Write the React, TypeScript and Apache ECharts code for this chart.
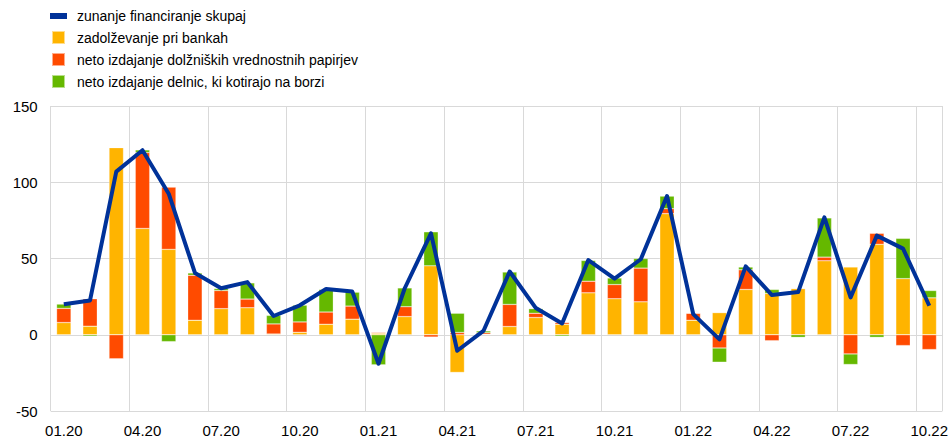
import React, { useEffect, useRef } from "react";
import * as echarts from "echarts";

const categories = [
  "01.20", "02.20", "03.20", "04.20", "05.20", "06.20", "07.20", "08.20", "09.20", "10.20", "11.20", "12.20",
  "01.21", "02.21", "03.21", "04.21", "05.21", "06.21", "07.21", "08.21", "09.21", "10.21", "11.21", "12.21",
  "01.22", "02.22", "03.22", "04.22", "05.22", "06.22", "07.22", "08.22", "09.22", "10.22",
];

const bankLoans = [
  8.0, 5.6, 122.7, 69.7, 56.0, 9.5, 17.1, 17.7, 0.5, 1.6, 6.9, 10.2,
  1.0, 11.9, 45.2, -24.7, 0.3, 5.4, 11.3, 6.9, 27.5, 23.6, 21.6, 79.4,
  9.5, 14.5, 29.7, 27.1, 30.3, 48.5, 44.4, 59.3, 36.8, 24.2,
];

const debtSecurities = [
  9.3, 18.0, -15.8, 49.8, 40.8, 29.5, 11.9, 5.7, 6.6, 6.8, 8.0, 8.6,
  0.5, 6.5, -1.5, 1.5, 1.0, 14.5, 2.8, 1.1, 7.6, 9.3, 22.1, 3.3,
  4.6, -8.7, 12.9, -3.9, 0.0, 2.4, -12.6, 7.2, -7.1, -9.7,
];

const listedShares = [
  2.8, -0.9, -0.3, 1.7, -4.5, 1.5, 1.3, 10.6, 5.6, 11.0, 14.8, 9.1,
  -19.7, 12.3, 22.3, 12.6, 1.2, 21.2, 3.0, -0.9, 13.6, 4.3, 6.3, 8.2,
  0.0, -9.3, 1.8, 2.6, -1.7, 25.7, -6.9, -1.7, 26.4, 4.8,
];

const totalFinancing = [
  20.0, 22.5, 107.0, 121.0, 92.5, 40.5, 30.5, 34.5, 12.3, 19.3, 30.0, 28.3,
  -19.0, 30.5, 66.5, -10.5, 2.5, 41.5, 17.5, 7.4, 49.0, 36.8, 49.5, 91.0,
  13.5, -3.0, 44.8, 26.0, 28.0, 77.0, 24.5, 65.0, 56.5, 19.0,
];

const yTicks = { min: -50, max: 150, interval: 50 };

const seriesNames = [
  "zunanje financiranje skupaj",
  "zadolževanje pri bankah",
  "neto izdajanje dolžniških vrednostnih papirjev",
  "neto izdajanje delnic, ki kotirajo na borzi",
];

const COLORS = {
  total: "#003299",
  banks: "#FFB400",
  debt: "#FF4B00",
  shares: "#65B800",
};

export default function App() {
  const ref = useRef<HTMLDivElement>(null);

  useEffect(() => {
    if (!ref.current) return;
    const chart = echarts.init(ref.current, undefined, { renderer: "svg" });
    const font = "Arial, 'Liberation Sans', sans-serif";
    const barStyle = (color: string) => ({
      color,
      borderColor: "rgba(255,255,255,0.55)",
      borderWidth: 0.5,
    });
    chart.setOption({
      animation: false,
      textStyle: { fontFamily: font },
      legend: {
        orient: "vertical",
        left: 50,
        top: 9,
        padding: 0,
        itemGap: 7,
        itemWidth: 17,
        itemHeight: 13,
        textStyle: { fontSize: 14, lineHeight: 13, color: "#000", fontFamily: font, padding: [0, 0, 0, 5] },
        data: [
          { name: seriesNames[0], icon: "path://M0,0H17V6H0Z" },
          { name: seriesNames[1], icon: "path://M0,0H13V13H0Z" },
          { name: seriesNames[2], icon: "path://M0,0H13V13H0Z" },
          { name: seriesNames[3], icon: "path://M0,0H13V13H0Z" },
        ],
      },
      grid: { left: 50.7, right: 5.3, top: 106, bottom: 24, containLabel: false },
      xAxis: {
        type: "category",
        data: categories,
        boundaryGap: true,
        axisLine: { show: false },
        axisTick: { show: false, interval: 2 },
        axisLabel: { interval: 2, fontSize: 15, color: "#000", margin: 12, fontFamily: font },
        splitLine: { show: true, interval: 2, lineStyle: { color: "#d9d9d9", width: 1 } },
      },
      yAxis: {
        type: "value",
        min: yTicks.min,
        max: yTicks.max,
        interval: yTicks.interval,
        axisLine: { show: false },
        axisTick: { show: false },
        axisLabel: { fontSize: 15, color: "#000", margin: 13, fontFamily: font },
        splitLine: { show: true, lineStyle: { color: "#d9d9d9", width: 1 } },
      },
      series: [
        {
          name: seriesNames[1],
          type: "bar",
          stack: "total",
          barWidth: "55%",
          data: bankLoans,
          itemStyle: barStyle(COLORS.banks),
        },
        {
          name: seriesNames[2],
          type: "bar",
          stack: "total",
          barWidth: "55%",
          data: debtSecurities,
          itemStyle: barStyle(COLORS.debt),
        },
        {
          name: seriesNames[3],
          type: "bar",
          stack: "total",
          barWidth: "55%",
          data: listedShares,
          itemStyle: barStyle(COLORS.shares),
        },
        {
          name: seriesNames[0],
          type: "line",
          data: totalFinancing,
          symbol: "none",
          z: 10,
          lineStyle: { color: COLORS.total, width: 4, join: "round" },
          itemStyle: { color: COLORS.total },
        },
      ],
    });
    return () => chart.dispose();
  }, []);

  return <div ref={ref} style={{ width: 951, height: 438, position: "absolute", left: 0, top: 0 }} />;
}
